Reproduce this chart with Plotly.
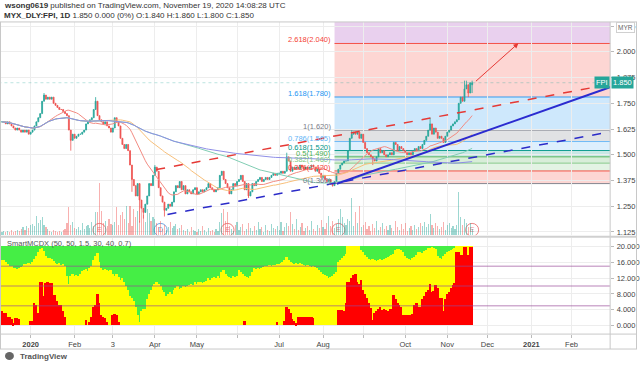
import numpy as np
import pandas as pd
import plotly.graph_objects as go

# ------------------------------------------------------------------ data
START_DATE = "2019-12-11"
END_DATE = "2020-11-19"
AXIS_END_DATE = "2021-03-31"

CLOSE = [
    1.66, 1.66, 1.65, 1.66, 1.65, 1.64, 1.63, 1.62, 1.63, 1.62,
    1.61, 1.62, 1.61, 1.62, 1.60, 1.61, 1.62, 1.64, 1.66, 1.68,
    1.70, 1.76, 1.79, 1.77, 1.78, 1.77, 1.78, 1.75, 1.74, 1.73,
    1.72, 1.72, 1.71, 1.70, 1.69, 1.62, 1.57, 1.60, 1.58, 1.59,
    1.60, 1.60, 1.61, 1.62, 1.65, 1.66, 1.67, 1.68, 1.72, 1.76,
    1.69, 1.67, 1.66, 1.65, 1.66, 1.64, 1.63, 1.61, 1.63, 1.68,
    1.66, 1.64, 1.58, 1.55, 1.53, 1.55, 1.52, 1.45, 1.38, 1.35,
    1.30, 1.36, 1.28, 1.24, 1.22, 1.26, 1.30, 1.36, 1.35, 1.40,
    1.44, 1.42, 1.34, 1.30, 1.27, 1.23, 1.24, 1.26, 1.25, 1.27,
    1.32, 1.35, 1.34, 1.37, 1.33, 1.35, 1.31, 1.33, 1.32, 1.31,
    1.33, 1.34, 1.31, 1.32, 1.33, 1.32, 1.33, 1.34, 1.36, 1.34,
    1.33, 1.32, 1.33, 1.34, 1.40, 1.42, 1.38, 1.36, 1.34, 1.31,
    1.33, 1.36, 1.35, 1.37, 1.38, 1.40, 1.37, 1.33, 1.36, 1.30,
    1.32, 1.36, 1.35, 1.37, 1.38, 1.39, 1.37, 1.38, 1.39, 1.38,
    1.39, 1.40, 1.41, 1.40, 1.41, 1.41, 1.42, 1.41, 1.42, 1.49,
    1.47, 1.42, 1.44, 1.43, 1.44, 1.43, 1.45, 1.44, 1.43, 1.44,
    1.43, 1.44, 1.45, 1.44, 1.42, 1.43, 1.41, 1.39, 1.40, 1.38,
    1.37, 1.38, 1.36, 1.35, 1.37, 1.41, 1.43, 1.45, 1.46, 1.47,
    1.47, 1.52, 1.58, 1.60, 1.61, 1.60, 1.61, 1.58, 1.60, 1.56,
    1.53, 1.51, 1.50, 1.49, 1.48, 1.47, 1.49, 1.53, 1.51, 1.52,
    1.50, 1.49, 1.50, 1.51, 1.50, 1.56, 1.55, 1.52, 1.54, 1.53,
    1.52, 1.51, 1.50, 1.51, 1.50, 1.52, 1.53, 1.52, 1.54, 1.53,
    1.55, 1.57, 1.59, 1.62, 1.65, 1.60, 1.63, 1.61, 1.58, 1.59,
    1.58, 1.56, 1.59, 1.61, 1.62, 1.64, 1.65, 1.66, 1.67, 1.75,
    1.78, 1.76, 1.82, 1.84, 1.80, 1.85, 1.85,
]
LAST_OPEN = 1.84
WICK_HIGH = {22: 1.80, 49: 1.78, 80: 1.45, 149: 1.51, 183: 1.62, 224: 1.68,
             242: 1.86, 243: 1.86, 246: 1.86}
WICK_LOW = {36: 1.52, 68: 1.32, 72: 1.17, 74: 1.19, 85: 1.20, 129: 1.29,
            173: 1.345, 194: 1.45, 244: 1.78, 246: 1.80}

VOLUME_K = [
    30, 40, 30, 40, 30, 50, 30, 40, 50, 40,
    60, 80, 50, 90, 70, 100, 110, 90, 190, 120,
    150, 180, 100, 80, 60, 40, 30, 50, 40, 30,
    40, 30, 50, 60, 120, 280, 100, 130, 70, 60,
    80, 50, 120, 60, 90, 100, 70, 130, 90, 230,
    230, 530, 240, 120, 140, 90, 160, 110, 100, 130,
    280, 100, 200, 230, 160, 300, 120, 290, 90, 260,
    180, 240, 140, 260, 200, 130, 260, 220, 140, 180,
    160, 120, 80, 140, 60, 100, 50, 80, 130, 70,
    90, 110, 60, 70, 100, 50, 40, 60, 30, 80,
    50, 40, 30, 60, 40, 90, 50, 30, 70, 40,
    50, 30, 60, 40, 130, 220, 260, 140, 230, 90,
    60, 40, 100, 130, 50, 80, 110, 40, 60, 120,
    70, 40, 90, 50, 130, 60, 80, 30, 100, 50,
    40, 110, 70, 60, 90, 50, 130, 40, 80, 120,
    90, 230, 110, 60, 160, 50, 80, 120, 40, 70,
    90, 50, 140, 60, 40, 100, 70, 150, 80, 60,
    120, 190, 90, 140, 70, 110, 160, 260, 180, 120,
    100, 160, 140, 380, 90, 230, 120, 290, 80, 100,
    130, 60, 90, 40, 110, 70, 140, 50, 80, 120,
    60, 90, 50, 100, 70, 40, 140, 80, 50, 110,
    60, 120, 40, 70, 90, 50, 100, 60, 80, 120,
    90, 130, 80, 110, 210, 100, 70, 120, 90, 60,
    80, 130, 50, 100, 120, 70, 90, 60, 100, 440,
    180, 100, 160, 120, 80, 120, 60,
]

MCDX_YELLOW = [
    16.5, 16.5, 16.0, 15.5, 15.0, 15.0, 14.5, 14.5, 14.2, 14.5,
    14.8, 15.0, 15.5, 15.5, 15.8, 15.5, 16.0, 16.8, 17.5, 18.5,
    19.2, 19.5, 18.8, 17.5, 17.0, 17.0, 16.8, 16.2, 15.8, 15.5,
    15.6, 15.2, 15.4, 15.0, 12.5, 10.5, 12.3, 13.0, 12.5, 12.8,
    12.5, 13.0, 13.8, 14.0, 14.2, 13.8, 14.5, 15.0, 16.5, 17.5,
    18.2, 16.0, 14.5, 14.0, 14.2, 14.0, 13.8, 14.0, 13.0, 12.5,
    13.0, 12.2, 11.5, 11.8, 11.0, 10.0, 9.0, 7.5, 6.8, 6.0,
    4.5, 2.5, 0.7, 3.5, 4.0, 4.2, 6.5, 8.0, 9.0, 10.0,
    10.5, 11.0, 10.5, 10.0, 9.0, 8.5, 7.5, 8.0, 8.5, 8.0,
    9.0, 9.5, 9.8, 9.2, 9.5, 10.0, 9.6, 10.0, 10.2, 10.5,
    10.2, 10.8, 10.5, 10.8, 11.0, 10.6, 11.0, 11.2, 11.8, 11.5,
    12.0, 12.2, 11.8, 12.5, 12.0, 13.5, 14.0, 13.0, 12.5, 12.2,
    12.0, 12.5, 12.2, 12.3, 14.0, 13.5, 13.0, 12.5, 12.2, 11.8,
    12.5, 13.5, 14.5, 14.3, 14.5, 14.2, 14.5, 14.8, 15.0, 15.0,
    15.2, 15.0, 15.3, 15.2, 15.5, 15.4, 15.6, 16.0, 16.5, 17.3,
    16.5, 16.0, 15.8, 15.5, 15.6, 15.5, 15.8, 15.5, 15.2, 15.0,
    15.3, 15.0, 14.8, 15.0, 14.8, 14.5, 14.0, 13.5, 13.0, 12.8,
    12.3, 12.0, 12.2, 12.5, 13.0, 13.5, 16.0, 16.5, 17.0, 17.5,
    18.0, 20.0, 20.0, 20.0, 20.0, 20.0, 20.0, 20.0, 19.0, 18.5,
    17.8, 17.2, 16.8, 16.5, 16.8, 16.5, 16.2, 16.5, 16.8, 16.5,
    16.8, 17.0, 17.2, 17.5, 17.8, 18.0, 19.0, 19.2, 19.3, 19.0,
    18.5, 17.5, 17.0, 16.8, 16.5, 17.0, 17.2, 17.8, 18.5, 18.6,
    18.3, 18.8, 19.0, 19.5, 19.6, 19.8, 19.5, 19.2, 17.5, 17.0,
    16.8, 17.5, 18.0, 18.5, 18.8, 19.0, 19.2, 19.5, 20.0, 20.0,
    20.0, 20.0, 20.0, 20.0, 20.0, 20.0, 20.0,
]
MCDX_RED = [
    3.5, 3.0, 3.2, 2.0, 2.2, 1.5, 0.5, 1.8, 1.8, 1.6,
    0, 0, 0, 0, 0, 1.0, 1.0, 5.6, 5.0, 3.0,
    11.0, 11.0, 7.3, 10.6, 11.0, 10.6, 10.6, 7.7, 7.7, 6.0,
    5.2, 5.2, 3.5, 2.0, 0, 0, 0, 0, 0, 0,
    0, 0, 0, 0, 1.4, 0, 0.8, 2.2, 4.7, 5.2,
    8.0, 5.5, 2.6, 2.2, 1.8, 0.8, 0, 0, 2.6, 2.8,
    2.6, 0.8, 0, 0, 0, 0, 0, 0, 0, 0,
    0, 0, 0, 0, 0, 0, 0, 0, 0, 0,
    0, 0, 0, 0, 0, 0, 0, 0, 0, 0,
    0, 0, 0, 0, 0, 0, 0, 0, 0, 0,
    0, 0, 0, 0, 0, 0, 0, 0, 0, 0,
    0, 0, 0, 0, 0, 0, 0, 0, 0, 0,
    0, 0, 0, 0, 0, 0, 0, 1.0, 0, 0,
    0, 0, 0, 0, 0, 0, 0, 0, 0, 0,
    0, 0, 0, 0, 0.9, 0, 0, 0, 1.0, 4.7,
    4.2, 3.0, 1.5, 1.0, 0.5, 2.0, 2.2, 2.2, 2.0, 2.2,
    2.2, 2.0, 2.0, 1.8, 0, 0, 0, 0, 0, 0,
    0, 0, 0, 0, 0, 0, 3.9, 3.9, 3.9, 3.6,
    5.5, 11.0, 10.8, 12.0, 12.7, 13.0, 11.0, 10.4, 11.5, 9.0,
    8.0, 7.0, 5.5, 4.3, 1.4, 3.0, 3.5, 4.0, 4.5, 3.8,
    4.0, 3.9, 3.6, 4.0, 4.2, 7.7, 6.5, 5.5, 5.2, 4.5,
    2.6, 2.6, 2.6, 2.6, 2.6, 2.8, 5.2, 5.5, 4.7, 4.7,
    6.5, 7.5, 8.5, 9.0, 10.4, 8.5, 8.7, 10.2, 9.5, 7.0,
    6.8, 3.5, 6.5, 8.0, 8.5, 9.5, 10.2, 10.6, 18.6, 18.6,
    17.7, 17.7, 19.8, 19.8, 17.7, 19.8, 19.8,
]
MCDX_TOP = 20.0
MCDX_LEVELS = [5, 10, 15]
MCDX_TICKS = [0, 4, 8, 12, 16, 20]

MA_PERIODS = [20, 50, 100, 200]

FIB_ZERO = 1.36
FIB_ONE = 1.62
FIB_RATIOS = [0, 0.236, 0.382, 0.5, 0.618, 0.786, 1, 1.618, 2.618, 3.618]
FIB_START_BAR = 174

# drawings anchored in (bar index, price)
TREND_RED_DASH = [(80.7, 1.428), (301.0, 1.8125)]
TREND_BLUE_DASH = [(86.6, 1.21), (251.6, 1.496)]
TREND_BLUE_SOLID = [(175.2, 1.359), (301.0, 1.772)]
ARROW = [(247.2, 1.851), (270.2, 2.042)]

EVENTS = [(51, "E"), (83, "D"), (118, "E"), (176, "E"), (246, "E")]

MONTH_LABELS = {
    "2020-01": "<b>2020</b>", "2020-02": "Feb", "2020-03": "3", "2020-04": "Apr",
    "2020-05": "May", "2020-06": "", "2020-07": "Jul", "2020-08": "Aug",
    "2020-09": "", "2020-10": "Oct", "2020-11": "Nov", "2020-12": "Dec",
    "2021-01": "<b>2021</b>", "2021-02": "Feb",
}
PRICE_TICKS = [1.125, 1.25, 1.375, 1.5, 1.625, 1.75, 1.875, 2.0, 2.125]

HEADER_1 = ("<b>wsong0619</b> published on TradingView.com, "
            "November 19, 2020 14:08:28 UTC")
HEADER_2 = ("<b>MYX_DLY:FPI, 1D</b> 1.850 0.000 (0%) O:1.840 H:1.860 "
            "L:1.800 C:1.850")
MCDX_TITLE = "SmartMCDX (50, 50, 1.5, 30, 40, 0.7)"
SYMBOL = "FPI"
LAST_PRICE = 1.85

# ------------------------------------------------------------------ build
W, H = 640, 365
FONT = "Liberation Sans"
UP, DOWN = "#26A69A", "#EF5350"


def py(p):
    return 1 - p / H


def pxx(p):
    return p / W


XR = pxx(613)
dates = pd.bdate_range(START_DATE, END_DATE)
n = len(dates)
x = np.arange(n)
close = np.array(CLOSE, dtype=float)
open_ = np.r_[close[0], close[:-1]]
open_[-1] = LAST_OPEN
high = np.maximum(open_, close)
low = np.minimum(open_, close)
for k, v in WICK_HIGH.items():
    high[k] = max(high[k], v)
for k, v in WICK_LOW.items():
    low[k] = min(low[k], v)

all_dates = pd.bdate_range(START_DATE, AXIS_END_DATE)
months = all_dates.strftime("%Y-%m")
tickvals, ticktext = [], []
for key, lab in MONTH_LABELS.items():
    tickvals.append(int(np.argmax(months == key)))
    ticktext.append(lab)

X_RANGE = [-1.04, 318.2]
P_RANGE = [1.1085, 2.1453]
M_RANGE = [-2.14, 22.01]

fig = go.Figure()

# volume
vol_col = ["rgba(38,166,154,0.45)" if c >= o else "rgba(239,83,80,0.45)"
           for o, c in zip(open_, close)]
fig.add_trace(go.Bar(x=x, y=VOLUME_K, yaxis="y2", xaxis="x",
                     marker=dict(color=vol_col, line=dict(width=0)), width=0.6))

# moving averages
ma_colors = ["#F28B82", "#F7BF7A", "#80CDB3", "#8E8EE6"]
cs = pd.Series(close)
for per, col in zip(MA_PERIODS, ma_colors):
    fig.add_trace(go.Scatter(x=x, y=cs.rolling(per, min_periods=1).mean(),
                             mode="lines", line=dict(color=col, width=1),
                             xaxis="x", yaxis="y"))

# candles
fig.add_trace(go.Candlestick(
    x=x, open=open_, high=high, low=low, close=close, xaxis="x", yaxis="y",
    increasing=dict(line=dict(color=UP, width=0.8), fillcolor=UP),
    decreasing=dict(line=dict(color=DOWN, width=0.8), fillcolor=DOWN),
    whiskerwidth=0))


def extend(line, x_end=330):
    (x0, y0), (x1, y1) = line
    s = (y1 - y0) / (x1 - x0)
    return [x0, x_end], [y0, y0 + s * (x_end - x0)]


for line, col, dash, wd in [(TREND_RED_DASH, "#E53935", "dash", 1.5),
                            (TREND_BLUE_DASH, "#2B2BC8", "dash", 1.5),
                            (TREND_BLUE_SOLID, "#2B2BD0", "solid", 2)]:
    xs, ys = extend(line)
    fig.add_trace(go.Scatter(x=xs, y=ys, mode="lines", xaxis="x", yaxis="y",
                             line=dict(color=col, width=wd, dash=dash)))

# event markers
EV_Y = 1.135
for bar, letter in EVENTS:
    col = "rgba(60,140,220,0.75)" if letter == "D" else "rgba(230,90,90,0.75)"
    fig.add_trace(go.Scatter(
        x=[bar], y=[EV_Y], mode="markers+text", text=[letter],
        textposition="middle center", textfont=dict(size=7, color=col, family=FONT),
        marker=dict(symbol="circle-open", size=13, color=col, line=dict(width=1)),
        xaxis="x", yaxis="y"))

# MCDX
fig.add_trace(go.Bar(x=x, y=[MCDX_TOP] * n, xaxis="x2", yaxis="y3", width=1.0,
                     marker=dict(color="#45EE45", line=dict(width=0))))
fig.add_trace(go.Bar(x=x, y=MCDX_YELLOW, xaxis="x2", yaxis="y3", width=1.0,
                     marker=dict(color="#FFFF00", line=dict(width=0))))
fig.add_trace(go.Bar(x=x, y=MCDX_RED, xaxis="x2", yaxis="y3", width=1.0,
                     marker=dict(color="#FF0000", line=dict(width=0))))

shapes = []
annotations = []

# fibonacci
FIB_COLORS = ["#787B86", "#F44336", "#81C784", "#4CAF50", "#009688",
              "#64B5F6", "#787B86", "#2196F3", "#F44336", "#9C27B0"]


def rgba(hx, a):
    hx = hx.lstrip("#")
    r, g, b = int(hx[0:2], 16), int(hx[2:4], 16), int(hx[4:6], 16)
    return f"rgba({r},{g},{b},{a})"


levels = [FIB_ZERO + r * (FIB_ONE - FIB_ZERO) for r in FIB_RATIOS]
for k in range(1, len(levels)):
    shapes.append(dict(type="rect", xref="x", yref="y", x0=FIB_START_BAR, x1=400,
                       y0=levels[k - 1], y1=levels[k], layer="below",
                       fillcolor=rgba(FIB_COLORS[k], 0.22), line=dict(width=0)))
for k, (r, lv) in enumerate(zip(FIB_RATIOS, levels)):
    shapes.append(dict(type="line", xref="x", yref="y", x0=FIB_START_BAR, x1=400,
                       y0=lv, y1=lv, layer="below",
                       line=dict(color=rgba(FIB_COLORS[k], 0.9), width=1)))
    if lv < P_RANGE[1]:
        rounded = round(lv / 0.005) * 0.005
        rl = f"{r:g}"
        annotations.append(dict(
            x=FIB_START_BAR - 0.8, y=lv, xref="x", yref="y", xanchor="right",
            yanchor="bottom", yshift=-3, showarrow=False,
            text=f"{rl}({rounded:.3f})",
            font=dict(size=7.5, color=FIB_COLORS[k], family=FONT)))

# last price line
shapes.append(dict(type="line", xref="x", yref="y", x0=-5, x1=400,
                   y0=LAST_PRICE, y1=LAST_PRICE,
                   line=dict(color="rgba(38,166,154,0.3)", width=1, dash="dot")))

# MCDX level lines
for lv in MCDX_LEVELS:
    shapes.append(dict(type="line", xref="x2", yref="y3", x0=-5, x1=400,
                       y0=lv, y1=lv, layer="above",
                       line=dict(color="rgba(150,70,150,0.45)", width=1.5)))

# frames
frame = "#C8C8C8"
shapes += [
    dict(type="line", xref="paper", yref="paper", x0=0, x1=1, y0=py(22), y1=py(22),
         line=dict(color=frame, width=1)),
    dict(type="line", xref="paper", yref="paper", x0=pxx(0.5), x1=pxx(0.5),
         y0=py(22), y1=py(350), line=dict(color=frame, width=1)),
    dict(type="line", xref="paper", yref="paper", x0=pxx(639.5), x1=pxx(639.5),
         y0=py(22), y1=py(350), line=dict(color=frame, width=1)),
    dict(type="line", xref="paper", yref="paper", x0=XR, x1=XR,
         y0=py(22), y1=py(350), line=dict(color=frame, width=1)),
    dict(type="line", xref="paper", yref="paper", x0=0, x1=1, y0=py(237.5),
         y1=py(237.5), line=dict(color="#D0D0D0", width=2)),
    dict(type="line", xref="paper", yref="paper", x0=0, x1=1, y0=py(335),
         y1=py(335), line=dict(color=frame, width=1)),
    dict(type="line", xref="paper", yref="paper", x0=0, x1=1, y0=py(350),
         y1=py(350), line=dict(color=frame, width=1)),
]

# arrow
annotations.append(dict(x=ARROW[1][0], y=ARROW[1][1], ax=ARROW[0][0],
                        ay=ARROW[0][1], xref="x", yref="y", axref="x", ayref="y",
                        showarrow=True, arrowhead=2, arrowsize=1, arrowwidth=1,
                        arrowcolor="#E53935", text=""))

# texts
annotations += [
    dict(x=pxx(2), y=py(6), xref="paper", yref="paper", xanchor="left",
         yanchor="middle", showarrow=False, text=HEADER_1,
         font=dict(size=8, color="#333", family=FONT)),
    dict(x=pxx(2), y=py(16), xref="paper", yref="paper", xanchor="left",
         yanchor="middle", showarrow=False, text=HEADER_2,
         font=dict(size=8, color="#333", family=FONT)),
    dict(x=pxx(5), y=py(244), xref="paper", yref="paper", xanchor="left",
         yanchor="middle", showarrow=False, text=MCDX_TITLE,
         font=dict(size=7.5, color="#555", family=FONT)),
    dict(x=XR, y=LAST_PRICE, xref="paper", yref="y", xanchor="right",
         yanchor="middle", showarrow=False, text=SYMBOL, bgcolor=UP,
         font=dict(size=7.5, color="white", family=FONT), borderpad=1),
    dict(x=XR + pxx(1), y=LAST_PRICE, xref="paper", yref="y", xanchor="left",
         yanchor="middle", showarrow=False, text=f"{LAST_PRICE:.3f}", bgcolor=UP,
         font=dict(size=7.5, color="white", family=FONT), borderpad=1),
    dict(x=pxx(628), y=py(28), xref="paper", yref="paper", xanchor="center",
         yanchor="middle", showarrow=False, text="MYR", bgcolor="white",
         bordercolor="#D0D0D0", borderwidth=1, borderpad=1,
         font=dict(size=6.5, color="#666", family=FONT)),
    dict(x=pxx(18), y=py(357), xref="paper", yref="paper", xanchor="left",
         yanchor="middle", showarrow=False, text="<b>TradingView</b>",
         font=dict(size=8, color="#555", family=FONT)),
]
shapes.append(dict(type="circle", xref="paper", yref="paper", x0=pxx(5),
                   x1=pxx(14), y0=py(361), y1=py(353), fillcolor="#666",
                   line=dict(width=0)))

grid = "#EDEDED"
tickfont = dict(size=7.5, color="#444", family=FONT)
fig.update_layout(
    width=W, height=H, margin=dict(l=0, r=0, t=0, b=0),
    paper_bgcolor="white", plot_bgcolor="white", showlegend=False,
    barmode="overlay", bargap=0, font=dict(family=FONT),
    xaxis=dict(domain=[0, XR], range=X_RANGE, anchor="y", tickvals=tickvals,
               showticklabels=False, showgrid=True, gridcolor=grid,
               zeroline=False, rangeslider=dict(visible=False), ticks=""),
    xaxis2=dict(domain=[0, XR], range=X_RANGE, anchor="y3", matches="x",
                tickvals=tickvals, ticktext=ticktext, tickfont=tickfont,
                ticks="outside", ticklen=3, tickcolor="#BBB", showgrid=True,
                gridcolor=grid, zeroline=False),
    yaxis=dict(domain=[py(236), py(22)], range=P_RANGE, anchor="x", side="right",
               tickvals=PRICE_TICKS, tickformat=".3f", tickfont=tickfont,
               ticks="outside", ticklen=3, tickcolor="#BBB", showgrid=True,
               gridcolor=grid, zeroline=False, ticklabelstandoff=1),
    yaxis2=dict(overlaying="y", range=[0, 2140], visible=False),
    yaxis3=dict(domain=[py(335), py(239)], range=M_RANGE, anchor="x2",
                side="right", tickvals=MCDX_TICKS, tickformat=".3f",
                tickfont=tickfont, ticks="outside", ticklen=3, tickcolor="#BBB",
                showgrid=True, gridcolor=grid, zeroline=False,
                ticklabelstandoff=1),
    shapes=shapes, annotations=annotations,
)

fig.write_html(
    "out.html",
    config={"displayModeBar": False},
    post_script="document.body.style.margin='0px';"
                "document.body.style.overflow='hidden';")
